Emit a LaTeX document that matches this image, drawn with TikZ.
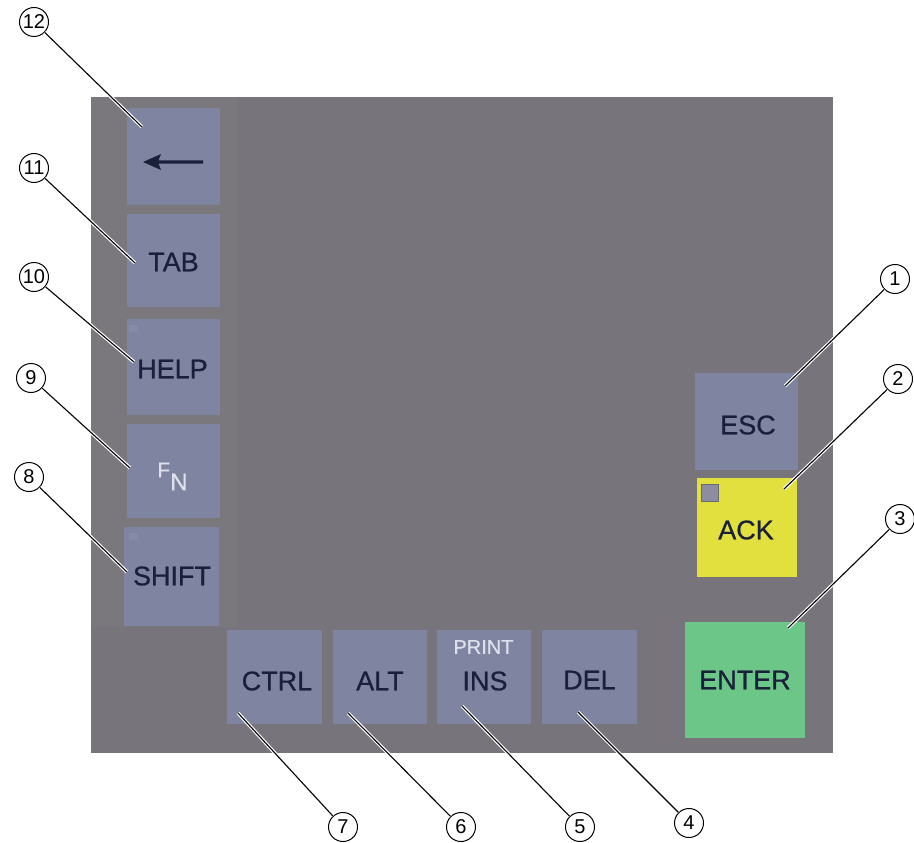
\documentclass[tikz,border=0pt]{standalone}
\usepackage{fontspec}
\setmainfont{Liberation Sans}
\newfontfamily\keyfont[FakeBold=0.6]{Liberation Sans}
\definecolor{panel}{RGB}{119,117,123}
\definecolor{panelL}{RGB}{122,119,125}
\definecolor{keyc}{RGB}{127,133,161}
\definecolor{ackc}{RGB}{226,224,62}
\definecolor{enterc}{RGB}{108,198,136}
\definecolor{keytext}{RGB}{26,31,58}
\definecolor{printc}{RGB}{222,225,235}
\definecolor{ledc}{RGB}{140,142,160}
\definecolor{ledfaint}{RGB}{134,140,166}
\tikzset{
  keybox/.style={fill=keyc, draw=none, inner sep=0pt},
  keylabel/.style={text=keytext, inner sep=0pt, font=\keyfont\fontsize{27}{27}\selectfont},
  smalllabel/.style={text=printc, inner sep=0pt, font=\keyfont\fontsize{20}{20}\selectfont},
  callout/.style={circle, draw=black, line width=1pt, fill=white, minimum size=29pt, inner sep=0pt, font=\fontsize{20}{20}\selectfont},
  leaderhalo/.style={white, line width=3.4pt},
  leader/.style={black, line width=1.1pt},
  ledbox/.style={fill=ledc, draw={rgb,255:red,105;green,107;blue,118}, line width=0.8pt, inner sep=0pt, minimum size=17pt},
  ledfaintbox/.style={fill=ledfaint, draw=none, inner sep=0pt, minimum width=9pt, minimum height=7pt}
}
\begin{document}
\begin{tikzpicture}[x=1pt, y=-1pt]
\useasboundingbox (0,0) rectangle (914,843);
% panel
\fill[panel] (91,97) rectangle (833,753);
\fill[panelL] (91,97) rectangle (237,627);
% left column keys
\node[keybox, minimum width=93pt, minimum height=97pt] (back) at (173.5,156.5) {};
\node[keybox, minimum width=93pt, minimum height=93pt] (tab) at (173.5,260.5) {};
\node[keybox, minimum width=93pt, minimum height=96pt] (help) at (173.5,367) {};
\node[keybox, minimum width=93pt, minimum height=94pt] (fn) at (173.5,471) {};
\node[keybox, minimum width=95pt, minimum height=99pt] (shift) at (171.5,576) {};
% bottom row keys
\node[keybox, minimum width=95pt, minimum height=94pt] (ctrl) at (274.5,677) {};
\node[keybox, minimum width=94pt, minimum height=94pt] (alt) at (380,677) {};
\node[keybox, minimum width=94pt, minimum height=94pt] (ins) at (484,677) {};
\node[keybox, minimum width=95pt, minimum height=94pt] (del) at (589.5,677) {};
% right keys
\node[keybox, minimum width=103pt, minimum height=97pt] (esc) at (746.5,421.5) {};
\node[keybox, fill=ackc, minimum width=100pt, minimum height=99pt] (ack) at (747,527.5) {};
\node[keybox, fill=enterc, minimum width=120pt, minimum height=116pt] (enter) at (745,680) {};
% LEDs
\node[ledbox] (ackled) at (709.5,492.5) {};
\node[ledfaintbox] (helpled) at (133,328.5) {};
\node[ledfaintbox] (shiftled) at (133,536) {};
% labels
\fill[keytext] (143,162) -- (161,154) -- (158.5,160.3) -- (203,160.3) -- (203,163.7) -- (158.5,163.7) -- (161,170) -- cycle;
\node[keylabel] (tabt) at (173.5,262) {TAB};
\node[keylabel] (helpt) at (172.5,369) {HELP};
\node[text=printc, inner sep=0pt] (fnt) at (172.5,476.5) {\keyfont\fontsize{21}{21}\selectfont F\raisebox{-13pt}{\fontsize{24}{24}\selectfont N}};
\node[keylabel] (shiftt) at (172,576) {SHIFT};
\node[keylabel] (ctrlt) at (277,681) {CTRL};
\node[keylabel] (altt) at (380,681) {ALT};
\node[keylabel] (inst) at (485,681) {INS};
\node[smalllabel] (printt) at (483.5,647) {PRINT};
\node[keylabel] (delt) at (589.5,680) {DEL};
\node[keylabel] (esct) at (748,425) {ESC};
\node[keylabel] (ackt) at (746,530) {ACK};
\node[keylabel] (entert) at (745,680) {ENTER};
% callouts
\node[callout] (c1) at (895,279) {1};
\node[callout] (c2) at (898,379) {2};
\node[callout] (c3) at (900,519) {3};
\node[callout] (c4) at (689,823) {4};
\node[callout] (c5) at (580,827) {5};
\node[callout] (c6) at (461,827) {6};
\node[callout] (c7) at (343,827) {7};
\node[callout] (c8) at (29,477) {8};
\node[callout] (c9) at (31,378) {9};
\node[callout] (c10) at (34,277) {10};
\node[callout] (c11) at (34,168) {11};
\node[callout] (c12) at (34,22) {12};
% leader ends
\coordinate (p1) at (785,386);
\coordinate (p2) at (784,489);
\coordinate (p3) at (788,628);
\coordinate (p4) at (578,712);
\coordinate (p5) at (462,706);
\coordinate (p6) at (348,713);
\coordinate (p7) at (238,713);
\coordinate (p8) at (127,572);
\coordinate (p9) at (130,468);
\coordinate (p10) at (134,362);
\coordinate (p11) at (135,263);
\coordinate (p12) at (142,127);
\foreach \i in {1,...,12} {
  \draw[leaderhalo] (c\i) -- (p\i);
  \draw[leader] (c\i) -- (p\i);
}
\end{tikzpicture}
\end{document}
